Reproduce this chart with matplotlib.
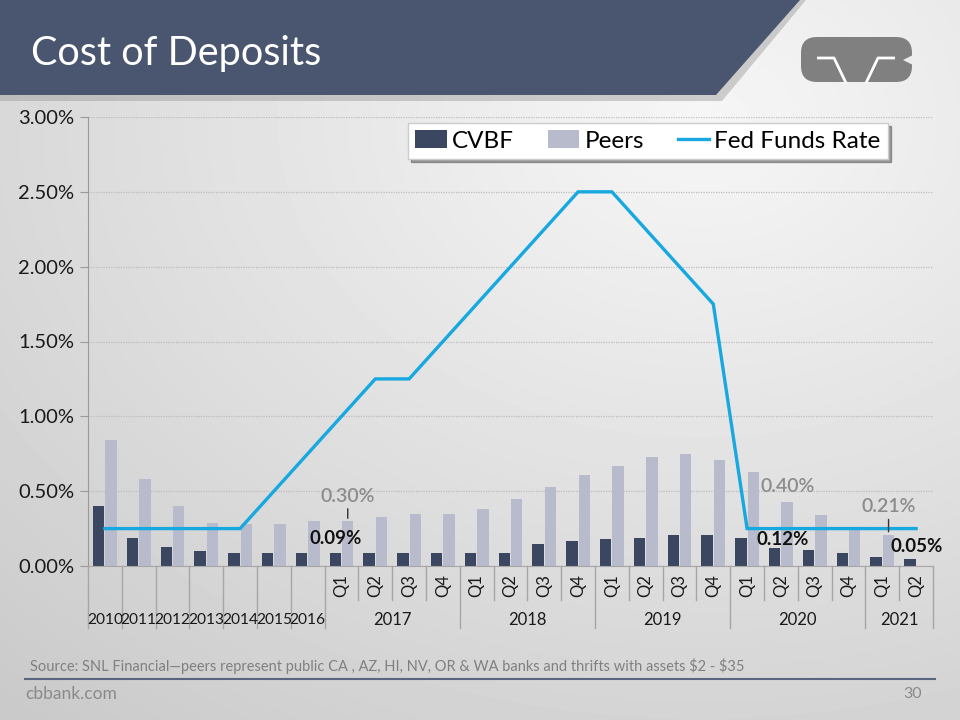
import numpy as np
import matplotlib
matplotlib.use("Agg")
import matplotlib.pyplot as plt
from matplotlib.patches import Polygon, Patch, FancyBboxPatch
from matplotlib.lines import Line2D
import matplotlib.transforms as mtrans

plt.rcParams['font.family'] = ['Lato', 'DejaVu Sans']

# ---------------- data ----------------
periods = ['2010', '2011', '2012', '2013', '2014', '2015', '2016',
           'Q1', 'Q2', 'Q3', 'Q4',
           'Q1', 'Q2', 'Q3', 'Q4',
           'Q1', 'Q2', 'Q3', 'Q4',
           'Q1', 'Q2', 'Q3', 'Q4',
           'Q1', 'Q2']
n_years = 7
group_names = ['2017', '2018', '2019', '2020', '2021']
group_sizes = [4, 4, 4, 4, 2]

cvbf = [0.40, 0.19, 0.13, 0.10, 0.09, 0.09, 0.09,
        0.09, 0.09, 0.09, 0.09,
        0.09, 0.09, 0.15, 0.17,
        0.18, 0.19, 0.21, 0.21,
        0.19, 0.12, 0.11, 0.09,
        0.06, 0.05]
peers = [0.84, 0.58, 0.40, 0.29, 0.28, 0.28, 0.30,
         0.30, 0.33, 0.35, 0.35,
         0.38, 0.45, 0.53, 0.61,
         0.67, 0.73, 0.75, 0.71,
         0.63, 0.43, 0.34, 0.26,
         0.21, np.nan]
fed = [0.25, 0.25, 0.25, 0.25, 0.25, 0.50, 0.75,
       1.00, 1.25, 1.25, 1.50,
       1.75, 2.00, 2.25, 2.50,
       2.50, 2.25, 2.00, 1.75,
       0.25, 0.25, 0.25, 0.25,
       0.25, 0.25]

peer_label_idx = [7, 20, 23]
peer_label_txt = ['0.30%', '0.40%', '0.21%']
cvbf_label_idx = [7, 20, 24]
cvbf_label_txt = ['0.09%', '0.12%', '0.05%']

yticks = [0.0, 0.5, 1.0, 1.5, 2.0, 2.5, 3.0]

# ---------------- style ----------------
C_CVBF = '#3B4660'
C_PEER = '#B8BBCB'
C_FED = '#17A8E0'
C_BANNER = '#4A5670'
C_DIV = '#A6A6A6'

W, H = 960, 720
fig = plt.figure(figsize=(9.6, 7.2), dpi=100)

def fx(px):
    return px / W

def fy(py):
    return 1 - py / H

# background gradient
bg = fig.add_axes([0, 0, 1, 1], zorder=-10)
yy, xx = np.mgrid[0:H, 0:W]
d = np.sqrt(((xx - 700) / W) ** 2 + ((yy - 120) / H) ** 2)
img = 0.965 - 0.16 * d
bg.imshow(img, cmap='gray', vmin=0, vmax=1, extent=[0, W, H, 0], aspect='auto')
bg.set_xlim(0, W)
bg.set_ylim(H, 0)
bg.axis('off')

# banner with shadow
bg.add_patch(Polygon([(0, 0), (806, 0), (722, 101), (0, 101)], closed=True,
                     facecolor='#9a9a9a', alpha=0.45, edgecolor='none'))
bg.add_patch(Polygon([(0, 0), (800, 0), (716, 95), (0, 95)], closed=True,
                     facecolor=C_BANNER, edgecolor='none'))
bg.text(31, 53, 'Cost of Deposits', color='white', fontsize=28.5,
        va='center', ha='left')

# logo
bg.add_patch(FancyBboxPatch((801, 37), 111, 45,
                            boxstyle='round,pad=0,rounding_size=16',
                            facecolor='#808080', edgecolor='none'))
bg.plot([817, 834, 846], [58, 58, 83], color='white', lw=2.0, solid_capstyle='butt')
bg.plot([866, 878, 895], [83, 58, 58], color='white', lw=2.0, solid_capstyle='butt')
bg.add_patch(Polygon([(913, 55), (903, 60), (913, 65)], closed=True,
                     facecolor=img[60, 912] * np.ones(3), edgecolor='none'))

# footer
bg.text(30, 666, 'Source: SNL Financial\u2014peers represent public CA , AZ, HI, NV, OR & WA banks '
        'and thrifts with assets \\$2 - \\$35', color='#808080', fontsize=10.5,
        va='center', ha='left')
bg.plot([25, 935], [679, 679], color='#5A6680', lw=1.5)
bg.text(25, 694, 'cbbank.com', color='#8A8A8A', fontsize=12.5, va='center', ha='left')
bg.text(922, 694, '30', color='#8A8A8A', fontsize=11.5, va='center', ha='right')

# ---------------- main axes ----------------
L, R, T, B = 88, 933, 117, 566
ax = fig.add_axes([fx(L), fy(B), (R - L) / W, (B - T) / H])
ax.patch.set_alpha(0)

x = np.arange(len(periods))
bw = 0.335
off = 0.185
ax.bar(x - off, cvbf, width=bw, color=C_CVBF, zorder=2)
ax.bar(x + off, peers, width=bw, color=C_PEER, zorder=2)
ax.plot(x, fed, color=C_FED, lw=2.4, zorder=3, solid_joinstyle='miter')

ax.set_xlim(-0.5, len(periods) - 0.5)
ax.set_ylim(0, 3.0)
ax.set_yticks(yticks)
ax.set_yticklabels([f'{v:.2f}%' for v in yticks], fontsize=14.5, color='#1a1a1a')
ax.yaxis.grid(True, color='#BDBDBD', linestyle=(0, (1, 1)), lw=0.9)
ax.set_axisbelow(True)
ax.tick_params(axis='y', length=6, color='#999999', pad=4)
ax.tick_params(axis='x', bottom=False, labelbottom=False)
for s in ['top', 'right']:
    ax.spines[s].set_visible(False)
ax.spines['left'].set_color('#999999')
ax.spines['bottom'].set_color(C_DIV)

# multi-level category axis
tr = mtrans.blended_transform_factory(ax.transData, fig.transFigure)
bounds_full = list(np.arange(0, n_years + 1) - 0.5)
pos = n_years
for gsz in group_sizes:
    pos += gsz
    bounds_full.append(pos - 0.5)
all_bounds = np.arange(0, len(periods) + 1) - 0.5
for b in all_bounds:
    full = any(abs(b - f) < 1e-6 for f in bounds_full)
    y2 = 628 if full else 600
    ax.add_line(Line2D([b, b], [fy(B), fy(y2)], transform=tr, color=C_DIV,
                       lw=1, clip_on=False))

for i, lab in enumerate(periods):
    if i < n_years:
        ax.text(i, fy(620), lab, transform=tr, ha='center', va='center',
                fontsize=11.2, color='#1a1a1a')
    else:
        ax.text(i, fy(586), lab, transform=tr, ha='center', va='center',
                fontsize=12, color='#1a1a1a', rotation=90)
start = n_years
for name, gsz in zip(group_names, group_sizes):
    ax.text(start + (gsz - 1) / 2, fy(620), name, transform=tr, ha='center',
            va='center', fontsize=12, color='#1a1a1a')
    start += gsz

# data labels
peer_offsets = [(0, 18), (0, 11), (0, 20)]
peer_leader = [True, False, True]
for i, t, o, lead in zip(peer_label_idx, peer_label_txt, peer_offsets, peer_leader):
    ax.annotate(t, xy=(i + off, peers[i]), xytext=o, textcoords='offset points',
                ha='center', va='center', fontsize=14, color='#8C8C8C', zorder=5,
                fontweight='semibold',
                arrowprops=dict(arrowstyle='-', color='#333333', lw=1,
                                shrinkA=1, shrinkB=2) if lead else None)
cvbf_offsets = [(0, 10), (6, 6), (5, 9)]
for i, t, o in zip(cvbf_label_idx, cvbf_label_txt, cvbf_offsets):
    ax.annotate(t, xy=(i - off, cvbf[i]), xytext=o, textcoords='offset points',
                ha='center', va='center', fontsize=13.5, color='#111111',
                fontweight='bold', zorder=5)

# legend
handles = [Patch(facecolor=C_CVBF), Patch(facecolor=C_PEER),
           Line2D([0], [0], color=C_FED, lw=2.4)]
leg = fig.legend(handles, ['CVBF', 'Peers', 'Fed Funds Rate'], ncol=3,
                 loc='center', bbox_to_anchor=(fx(648), fy(141)),
                 fontsize=17.5, frameon=True, fancybox=False, shadow=True,
                 handlelength=1.3, handletextpad=0.2, columnspacing=1.4,
                 borderpad=0.3)
leg.get_frame().set_facecolor('white')
leg.get_frame().set_edgecolor('#cccccc')

fig.savefig('out.png', dpi=100)
